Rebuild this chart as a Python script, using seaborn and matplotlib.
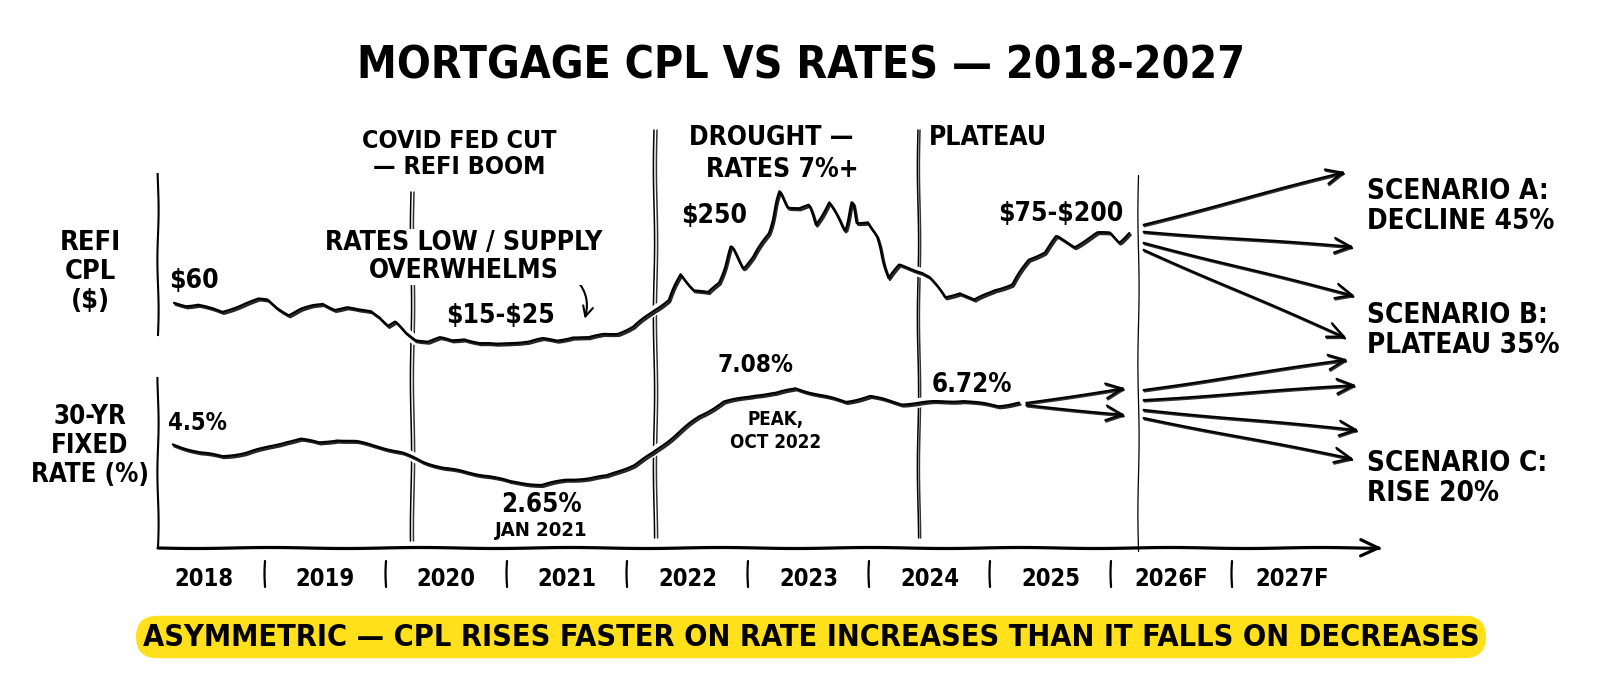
import matplotlib
matplotlib.use("Agg")
import matplotlib.pyplot as plt
import matplotlib.patheffects as pe
import matplotlib.transforms as mtransforms
import seaborn as sns
import pandas as pd

# ---- data ----
cpl_years = [2018.25, 2018.35, 2018.45, 2018.55, 2018.65, 2018.75, 2018.85, 2018.95, 2019.02,
             2019.10, 2019.20, 2019.30, 2019.40, 2019.48, 2019.58, 2019.68, 2019.78, 2019.88,
             2019.95, 2020.02, 2020.08, 2020.16, 2020.25, 2020.35, 2020.45, 2020.55, 2020.65,
             2020.78, 2020.92, 2021.05, 2021.18, 2021.30, 2021.42, 2021.55, 2021.68, 2021.80,
             2021.92, 2022.00, 2022.05, 2022.22, 2022.34, 2022.44, 2022.55, 2022.67, 2022.76,
             2022.86, 2022.96, 2023.04, 2023.17, 2023.26, 2023.33, 2023.42, 2023.50, 2023.56,
             2023.67, 2023.80, 2023.86, 2023.90, 2023.99, 2024.06, 2024.16, 2024.25, 2024.44,
             2024.50, 2024.63, 2024.75, 2024.87, 2025.04, 2025.18, 2025.32, 2025.45, 2025.55,
             2025.70, 2025.89, 2025.99, 2026.07, 2026.15]
cpl_values = [60, 57, 58, 54, 50, 55, 60, 64, 63,
              55, 47, 53, 57, 59, 53, 55, 52, 51,
              45, 35, 39, 28, 20, 18, 22, 19, 21,
              16, 15, 17, 18, 21, 19, 23, 22, 26,
              27, 31, 34, 52, 63, 91, 74, 71, 82,
              121, 98, 110, 136, 181, 164, 163, 166, 145,
              169, 139, 169, 147, 148, 132, 87, 101, 93,
              88, 66, 71, 63, 74, 80, 107, 115, 132,
              121, 136, 136, 126, 136]

rate_years = [2018.24, 2018.46, 2018.65, 2018.84, 2019.00, 2019.18, 2019.30, 2019.45, 2019.60,
              2019.76, 2019.95, 2020.14, 2020.31, 2020.48, 2020.69, 2020.86, 2021.03, 2021.29,
              2021.49, 2021.67, 2021.83, 2022.05, 2022.21, 2022.38, 2022.59, 2022.80, 2023.06,
              2023.23, 2023.39, 2023.59, 2023.81, 2024.01, 2024.27, 2024.53, 2024.78, 2025.07,
              2025.24]
rate_values = [4.50, 4.13, 3.97, 4.11, 4.34, 4.63, 4.75, 4.58, 4.71,
               4.63, 4.40, 4.11, 3.71, 3.43, 3.21, 3.06, 2.80, 2.65,
               2.88, 2.96, 3.06, 3.56, 4.10, 4.86, 5.77, 6.45, 6.76,
               6.84, 7.07, 6.76, 6.45, 6.71, 6.35, 6.45, 6.50, 6.26,
               6.41]

# forecast fans: start point, end years, end values
cpl_fan_start = (2026.27, [144.8, 137.2, 125.2, 117.6])
cpl_fan_end_years = [2027.94, 2028.01, 2028.02, 2027.95]
cpl_fan_end_values = [202.4, 120.9, 67.6, 22.0]

rate_bridge_start = (2025.30, [6.40, 6.30])
rate_bridge_end_years = [2026.12, 2026.12]
rate_bridge_end_values = [7.08, 5.85]

rate_fan_start = (2026.27, [6.99, 6.53, 6.08, 5.71])
rate_fan_end_years = [2027.96, 2028.03, 2028.05, 2028.01]
rate_fan_end_values = [8.39, 7.22, 5.16, 3.84]

event_years = [2020.21, 2022.22, 2024.40, 2026.22]
year_labels = ['2018', '2019', '2020', '2021', '2022', '2023', '2024', '2025', '2026F', '2027F']
first_year = 2018

W, H = 1600, 679


def px(x, y):
    """pixel position in the 1600x679 canvas -> figure fraction"""
    return x / W, 1 - y / H


sns.set_theme(style="white")
plt.rcParams['font.family'] = ['DejaVu Sans']
plt.rcParams['font.stretch'] = 'condensed'
plt.rcParams['font.weight'] = 'bold'

fig = plt.figure(figsize=(16, 6.79), dpi=100)
fig.patch.set_facecolor('white')

left, right = px(158, 0)[0], px(1383, 0)[0]
ax_cpl = fig.add_axes([left, px(0, 360)[1], right - left, px(0, 174)[1] - px(0, 360)[1]])
ax_rate = fig.add_axes([left, px(0, 548)[1], right - left, px(0, 378)[1] - px(0, 548)[1]],
                       sharex=ax_cpl)
for ax in (ax_cpl, ax_rate):
    ax.set_facecolor('none')
    ax.set_xlim(2018.117, 2028.25)
    for s in ['top', 'right', 'bottom']:
        ax.spines[s].set_visible(False)
    ax.spines['left'].set_color('black')
    ax.spines['left'].set_linewidth(1.5)
    ax.spines['left'].set_sketch_params(0.6, 100, 1.0)
    ax.set_yticks([])
ax_cpl.set_ylim(-2, 200)
ax_cpl.spines['left'].set_bounds(25, 200)
ax_rate.set_ylim(-0.23, 7.54)
ax_cpl.tick_params(axis='x', which='both', length=0, labelbottom=False)

# event / forecast dividers: x in data, y in figure
blend = mtransforms.blended_transform_factory(ax_cpl.transData, fig.transFigure)
event_tops = [192, 130, 130, 175]
event_bottoms = [541, 538, 538, 551]
for i, (yr, top, bot) in enumerate(zip(event_years, event_tops, event_bottoms)):
    ln, = ax_cpl.plot([yr, yr], [px(0, top)[1], px(0, bot)[1]], transform=blend,
                      color='black', lw=1.1 if i < 3 else 0.9, clip_on=False, zorder=1)
    ln.set_sketch_params(0.6, 150, 1.0)
    if i < 3:
        ln.set_path_effects([pe.SimpleLineShadow(offset=(1.8, 0), shadow_color='black', alpha=0.8),
                             pe.Normal()])

# data lines
cpl_df = pd.DataFrame({'year': cpl_years, 'cpl': cpl_values})
rate_df = pd.DataFrame({'year': rate_years, 'rate': rate_values})
sns.lineplot(data=cpl_df, x='year', y='cpl', ax=ax_cpl, color='black', lw=1.7, zorder=4)
sns.lineplot(data=rate_df, x='year', y='rate', ax=ax_rate, color='black', lw=1.7, zorder=4)
for ax in (ax_cpl, ax_rate):
    ax.set_ylabel('')
    ax.set_xlabel('')
    line = ax.lines[-1]
    line.set_sketch_params(0.7, 50, 1.2)
    line.set_path_effects([pe.Stroke(linewidth=7, foreground='white'),
                           pe.SimpleLineShadow(offset=(1.0, -1.3), shadow_color='black', alpha=0.85),
                           pe.Normal()])

# forecast arrows
arrow_kw = dict(arrowstyle='->,head_length=1.0,head_width=0.45', color='black', lw=1.6,
                shrinkA=0, shrinkB=0)


def fan(ax, start, end_years, end_values):
    x0, y0s = start
    for y0, x1, y1 in zip(y0s, end_years, end_values):
        a = ax.annotate('', xy=(x1, y1), xytext=(x0, y0), arrowprops=arrow_kw,
                        annotation_clip=False, zorder=5)
        a.arrow_patch.set_sketch_params(0.4, 200, 1.0)
        a.arrow_patch.set_path_effects([pe.SimpleLineShadow(offset=(0.6, -1.0), shadow_color='black',
                                                            alpha=0.8), pe.Normal()])


fan(ax_cpl, cpl_fan_start, cpl_fan_end_years, cpl_fan_end_values)
fan(ax_rate, rate_bridge_start, rate_bridge_end_years, rate_bridge_end_values)
fan(ax_rate, rate_fan_start, rate_fan_end_years, rate_fan_end_values)

# x axis with arrow
xa = ax_rate.annotate('', xy=(1.0, 0), xytext=(0, 0), xycoords='axes fraction',
                      textcoords='axes fraction', annotation_clip=False,
                      arrowprops=dict(arrowstyle='->,head_length=1.1,head_width=0.5', color='black',
                                      lw=2.3, shrinkA=0, shrinkB=0))
xa.arrow_patch.set_sketch_params(0.5, 150, 1.0)

# year labels and separators
ax_rate.set_xticks([first_year + i + 0.5 for i in range(len(year_labels))])
ax_rate.set_xticklabels(year_labels, fontsize=17, fontweight='bold')
ax_rate.tick_params(axis='x', length=0, pad=14, colors='black')
blend_r = mtransforms.blended_transform_factory(ax_rate.transData, fig.transFigure)
for i in range(1, len(year_labels)):
    sep, = ax_rate.plot([first_year + i] * 2, [px(0, 561)[1], px(0, 587)[1]], transform=blend_r,
                        color='black', lw=1.6, clip_on=False)
    sep.set_sketch_params(0.5, 50, 1.0)


# text
def label(x, y, s, size=19, ha='center', **kw):
    fx, fy = px(x, y)
    return fig.text(fx, fy, s, fontsize=size, ha=ha, va='center', fontweight='bold',
                    color='black', parse_math=False, **kw)


label(801, 66, 'MORTGAGE CPL VS RATES — 2018-2027', size=32)
label(459, 154, 'COVID FED CUT\n— REFI BOOM', size=18, linespacing=1.15)
label(689, 138, 'DROUGHT —', ha='left')
label(706, 170, 'RATES 7%+', ha='left')
label(929, 138, 'PLATEAU', ha='left')
label(464, 257, 'RATES LOW / SUPPLY\nOVERWHELMS', linespacing=1.1,
      bbox=dict(facecolor='white', edgecolor='none', pad=1))
label(194, 281, '$60')
label(500, 316, '$15-$25')
label(714, 216, '$250')
label(1061, 214, '$75-$200')
label(90, 272, 'REFI\nCPL\n($)', size=19.5, linespacing=1.15)
label(90, 446, '30-YR\nFIXED\nRATE (%)', size=18.5, linespacing=1.15)
label(197, 423, '4.5%', size=17)
label(755, 365, '7.08%', size=17.5)
label(776, 431, 'PEAK,\nOCT 2022', size=13.5, linespacing=1.2)
label(541, 505, '2.65%', size=18.5)
label(541, 531, 'JAN 2021', size=14.5)
label(972, 385, '6.72%', size=18.5)
label(1367, 206, 'SCENARIO A:\nDECLINE 45%', size=20, ha='left', linespacing=1.1)
label(1367, 330, 'SCENARIO B:\nPLATEAU 35%', size=20, ha='left', linespacing=1.1)
label(1367, 478, 'SCENARIO C:\nRISE 20%', size=20, ha='left', linespacing=1.1)

# curved pointer to the trough
ax_cpl.annotate('', xy=(2021.64, 40), xytext=(2021.52, 92), annotation_clip=False,
                arrowprops=dict(arrowstyle='->,head_length=0.6,head_width=0.3', color='black',
                                lw=1.5, connectionstyle='arc3,rad=-0.35'))

label(811, 637, 'ASYMMETRIC — CPL RISES FASTER ON RATE INCREASES THAN IT FALLS ON DECREASES',
      size=22, bbox=dict(boxstyle='round,pad=0.22,rounding_size=0.7', facecolor='#FFE01B',
                         edgecolor='none'))

fig.savefig('out.png', dpi=100, facecolor='white')
